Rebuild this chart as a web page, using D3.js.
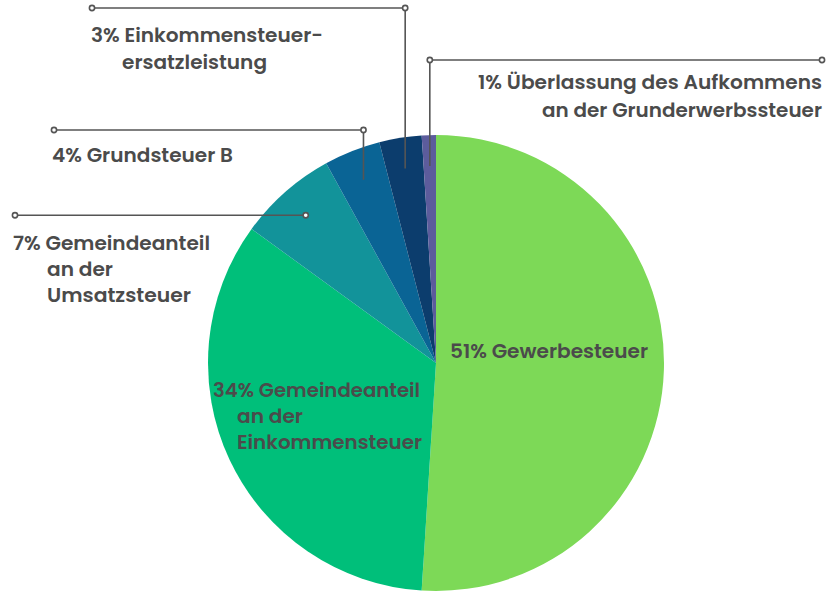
<!DOCTYPE html>
<html>
<head>
<meta charset="utf-8">
<script src="https://cdn.jsdelivr.net/npm/d3@7"></script>
<style>
  body { margin: 0; background: #fff; }
  text { font-family: "Poppins", "Inter", "Noto Sans", sans-serif; font-weight: 600; fill: #4b4b4b; }
</style>
</head>
<body>
<div id="chart"></div>
<script>
// share of municipal tax revenue, clockwise from 12 o'clock
var categories = ["Gewerbesteuer", "Gemeindeanteil an der Einkommensteuer", "Gemeindeanteil an der Umsatzsteuer",
                  "Grundsteuer B", "Einkommensteuerersatzleistung", "Überlassung des Aufkommens an der Grunderwerbssteuer"];
var values = [51, 34, 7, 4, 3, 1];
var colors = ["#7dd957", "#00bf7a", "#12939a", "#0a6495", "#0c3d6d", "#5c5c9c"];
var labelLines = [
  ["51% Gewerbesteuer"],
  ["34% Gemeindeanteil", "an der", "Einkommensteuer"],
  ["7% Gemeindeanteil", "an der", "Umsatzsteuer"],
  ["4% Grundsteuer B"],
  ["3% Einkommensteuer-", "ersatzleistung"],
  ["1% Überlassung des Aufkommens", "an der Grunderwerbssteuer"]
];

var width = 827, height = 593;
var cx = 436, cy = 363, radius = 228;

// label placement: first baseline x/y, line step, line indent, anchor, fitted widths
var labelLayout = [
  { x: 450, y: 358, step: 0, indent: [0], anchor: "start", len: [198] },
  { x: 213, y: 397, step: 26, indent: [0, 24, 24], anchor: "start", len: [207, 66, 185] },
  { x: 13, y: 250, step: 26, indent: [0, 34, 34], anchor: "start", len: [197, 66, 144] },
  { x: 52, y: 162, step: 0, indent: [0], anchor: "start", len: [181] },
  { x: 91, y: 42, step: 27, indent: [0, 31], anchor: "start", len: [232, 145] },
  { x: 822, y: 89, step: 28, indent: [0, 0], anchor: "end", len: [344, 280] }
];
// leader lines: kind, far end of the horizontal, y of the horizontal
var leaders = [
  null,
  null,
  { kind: "h", farX: 15 },
  { kind: "v", farX: 54, lineY: 130 },
  { kind: "v", farX: 92, lineY: 8 },
  { kind: "v", farX: 822, lineY: 60 }
];

var svg = d3.select("#chart").append("svg")
  .attr("width", width)
  .attr("height", height);

var pie = d3.pie().sort(null).value(function(d) { return d; });
var arcs = pie(values);
var arc = d3.arc().innerRadius(0).outerRadius(radius);
var inner = d3.arc().innerRadius(197).outerRadius(197);

var g = svg.append("g").attr("transform", "translate(" + cx + "," + cy + ")");

g.selectAll("path")
  .data(arcs)
  .enter().append("path")
  .attr("d", arc)
  .attr("fill", function(d, i) { return colors[i]; });

// leader lines
var lg = svg.append("g").attr("fill", "none").attr("stroke", "#555").attr("stroke-width", 1.6);
arcs.forEach(function(a, i) {
  var L = leaders[i];
  if (!L) return;
  var p = inner.centroid(a);
  var ex = cx + p[0], ey = cy + p[1];
  var pts;
  if (L.kind === "h") {
    pts = [[L.farX, ey], [ex, ey]];
  } else {
    pts = [[ex, ey], [ex, L.lineY], [L.farX, L.lineY]];
  }
  lg.append("path").attr("d", d3.line()(pts));
  var dots = L.kind === "h" ? [pts[0], pts[1]] : [pts[1], pts[2]];
  dots.forEach(function(q) {
    lg.append("circle").attr("cx", q[0]).attr("cy", q[1]).attr("r", 2.6).attr("fill", "#fff");
  });
});

// labels
labelLines.forEach(function(lines, i) {
  var L = labelLayout[i];
  var t = svg.append("text").attr("font-size", 19.5).attr("text-anchor", L.anchor);
  lines.forEach(function(s, j) {
    t.append("tspan")
      .attr("x", L.x + L.indent[j])
      .attr("y", L.y + j * L.step)
      .attr("textLength", L.len[j])
      .attr("lengthAdjust", "spacingAndGlyphs")
      .text(s);
  });
});
</script>
</body>
</html>
